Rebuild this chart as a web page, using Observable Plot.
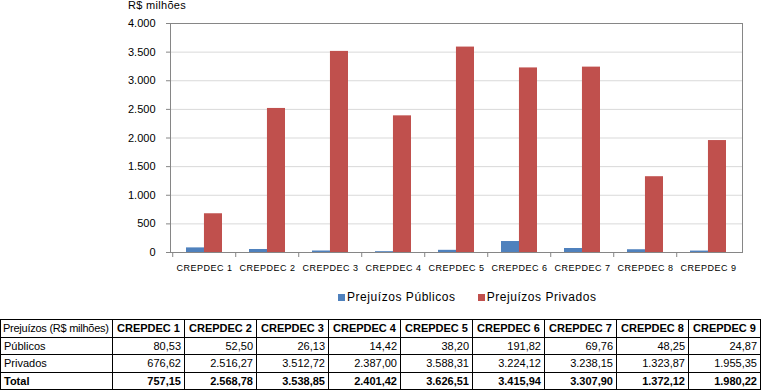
<!DOCTYPE html>
<html>
<head>
<meta charset="utf-8">
<script src="https://cdn.jsdelivr.net/npm/d3@7"></script>
<script src="https://cdn.jsdelivr.net/npm/@observablehq/plot@0.6"></script>
<style>
  html, body { margin: 0; padding: 0; background: #fff; }
  body { font-family: "Liberation Sans", Arial, sans-serif; }
  #wrap { position: relative; width: 761px; height: 390px; overflow: hidden; }
  #ylab { position: absolute; left: 128px; top: -1px; font-size: 11px; letter-spacing: 0.3px; color: #000; }
  #chart { position: absolute; left: 0; top: 0; }
  #legend { position: absolute; top: 290px; left: 338px; display: flex; font-size: 12px; letter-spacing: 0.55px; color: #000; }
  #legend .item { display: flex; align-items: center; margin-right: 22px; }
  #legend .sw { width: 7px; height: 7px; margin-right: 2px; }
  #tbl { position: absolute; left: 0; top: 319px; width: 761px; border-collapse: collapse; font-size: 11px; table-layout: fixed; }
  #tbl td { border: 1px solid #000; height: 16.5px; padding: 0 3px; white-space: nowrap; line-height: 16.5px; }
  #tbl td.corner { padding: 0 0 0 2px; letter-spacing: -0.25px; }
  #tbl td.num { text-align: right; }
  #tbl tr.head td.num { text-align: center; font-weight: bold; padding: 0 1px; }
  #tbl tr.total td { font-weight: bold; }
  svg [aria-label="x-axis tick label"] text { letter-spacing: 0.5px; }
</style>
</head>
<body>
<div id="wrap">
  <div id="chart"></div>
  <div id="ylab">R$ milhões</div>
  <div id="legend"></div>
  <table id="tbl"></table>
</div>
<script>
// ---- data ----
const categories = ["CREPDEC 1","CREPDEC 2","CREPDEC 3","CREPDEC 4","CREPDEC 5","CREPDEC 6","CREPDEC 7","CREPDEC 8","CREPDEC 9"];
const publicos = [80.53, 52.50, 26.13, 14.42, 38.20, 191.82, 69.76, 48.25, 24.87];
const privados = [676.62, 2516.27, 3512.72, 2387.00, 3588.31, 3224.12, 3238.15, 1323.87, 1955.35];
const totais = [757.15, 2568.78, 3538.85, 2401.42, 3626.51, 3415.94, 3307.90, 1372.12, 1980.22];
const yTicks = [0, 500, 1000, 1500, 2000, 2500, 3000, 3500, 4000];
const seriesNames = ["Prejuízos Públicos", "Prejuízos Privados"];
const rowLabels = ["Públicos", "Privados", "Total"];
const tableCorner = "Prejuízos (R$ milhões)";

const colors = ["#4F81BD", "#C0504D"];
const locale = d3.formatLocale({decimal: ",", thousands: ".", grouping: [3], currency: ["R$ ", ""]});
const fmtInt = locale.format(",.0f");
const fmt2 = locale.format(",.2f");

const rows = categories.map((c, i) => ({cat: c, pub: publicos[i], priv: privados[i]}));

// ---- layout ----
const W = 761, H = 280, mL = 170, mR = 19, mT = 23, mB = 28;
const padInner = 0.435, padOuter = 0.2175;
const step = (W - mL - mR) / categories.length;
const bw = step * (1 - padInner);

const chart = Plot.plot({
  width: W, height: H,
  marginLeft: mL, marginRight: mR, marginTop: mT, marginBottom: mB,
  style: {fontFamily: "'Liberation Sans', Arial, sans-serif", fontSize: "11px", color: "#000", background: "transparent"},
  x: {domain: categories, paddingInner: padInner, paddingOuter: padOuter, label: null},
  y: {domain: [0, 4000], label: null},
  marks: [
    Plot.gridY(yTicks, {stroke: "#d9d9d9", strokeOpacity: 1}),
    Plot.barY(rows, {x: "cat", y: "pub", fill: colors[0], insetRight: bw / 2}),
    Plot.barY(rows, {x: "cat", y: "priv", fill: colors[1], insetLeft: bw / 2}),
    Plot.frame({stroke: "#868686", strokeOpacity: 1}),
    Plot.axisY(yTicks, {tickSize: 4, tickPadding: 11, stroke: "#868686", strokeOpacity: 1, tickFormat: fmtInt, fontSize: 11, label: null}),
    Plot.axisX({tickSize: 5, tickFormat: () => "", dx: -step / 2, stroke: "#868686", strokeOpacity: 1, label: null}),
    Plot.axisX({tickSize: 0, tickPadding: 12, fontSize: 9, label: null})
  ]
});
document.getElementById("chart").appendChild(chart);

// ---- legend ----
const leg = document.getElementById("legend");
seriesNames.forEach((s, i) => {
  const it = document.createElement("div");
  it.className = "item";
  it.innerHTML = `<span class="sw" style="background:${colors[i]}"></span><span>${s}</span>`;
  leg.appendChild(it);
});

// ---- table ----
const tbl = document.getElementById("tbl");
const colg = document.createElement("colgroup");
colg.innerHTML = `<col style="width:112px">` + categories.map(() => `<col style="width:72px">`).join("");
tbl.appendChild(colg);
const head = document.createElement("tr");
head.className = "head";
head.innerHTML = `<td class="corner">${tableCorner}</td>` + categories.map(c => `<td class="num">${c}</td>`).join("");
tbl.appendChild(head);
[publicos, privados, totais].forEach((arr, r) => {
  const tr = document.createElement("tr");
  if (r === 2) tr.className = "total";
  tr.innerHTML = `<td>${rowLabels[r]}</td>` + arr.map(v => `<td class="num">${fmt2(v)}</td>`).join("");
  tbl.appendChild(tr);
});
</script>
</body>
</html>
